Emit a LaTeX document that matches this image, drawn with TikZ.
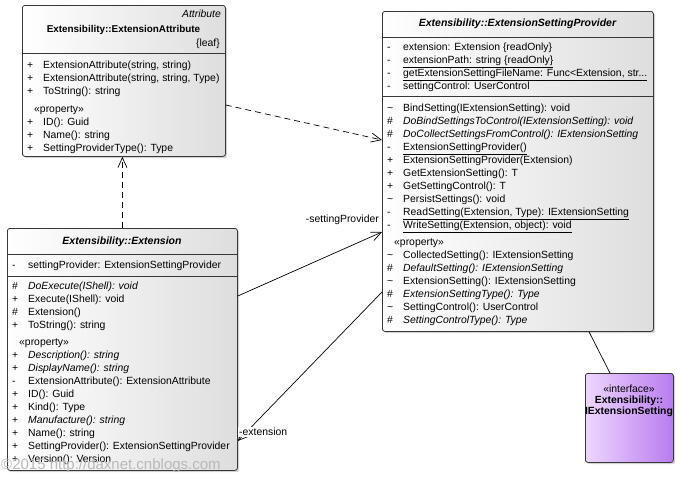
\documentclass[tikz,border=0pt]{standalone}
\usepackage{fontspec}
\setmainfont{Liberation Sans}
\usetikzlibrary{arrows.meta,shadows}

\definecolor{boxedge}{RGB}{55,55,55}
\definecolor{ifacelight}{RGB}{238,214,255}
\definecolor{ifacedark}{RGB}{184,124,238}

\newcommand{\memberfont}{\fontsize{10.4}{13}\selectfont}
\newcommand{\titlefont}{\fontsize{9.9}{13}\selectfont\bfseries}
\newcommand{\classfont}{\fontsize{10.5}{13}\selectfont\bfseries\itshape}
\newcommand{\stereo}[1]{\multicolumn{2}{@{\hspace{7pt}}l@{}}{«#1»}}

\tikzset{
  classbox/.style={draw=boxedge, line width=0.8pt, rounded corners=2.5pt, anchor=north west,
    left color=white, right color=black!13, inner sep=0pt,
    drop shadow={shadow xshift=1.8pt, shadow yshift=-1.8pt, opacity=.35}},
  members/.style={anchor=north west, inner sep=0pt, font=\memberfont},
  headtext/.style={inner sep=1pt, font=\memberfont},
  rule/.style={draw=boxedge, line width=0.8pt},
  assoc/.style={draw=black, line width=0.7pt, ->},
  dep/.style={assoc, dash pattern=on 6pt off 4pt},
  rolelabel/.style={font=\memberfont, inner sep=1pt},
  >={Straight Barb[length=10pt,width=9pt]}
}

\begin{document}
\begin{tikzpicture}[x=1pt,y=-1pt]
  \useasboundingbox (0,0) rectangle (681,477);

  % the four classifiers
  \node[classbox, minimum width=203pt, minimum height=151pt] (attr) at (22,5) {};
  \node[classbox, minimum width=230pt, minimum height=242pt] (ext) at (7,228) {};
  \node[classbox, minimum width=271pt, minimum height=320pt] (prov) at (382,11) {};
  \node[classbox, left color=ifacelight, right color=ifacedark,
        minimum width=88pt, minimum height=89pt] (iface) at (585,373) {};

  % ExtensionAttribute
  \node[headtext, anchor=east, font=\memberfont\itshape] (attrkind) at (222,14) {Attribute};
  \node[headtext, font=\titlefont] (attrname) at (123.5,30) {Extensibility::ExtensionAttribute};
  \node[headtext, anchor=east] (attrleaf) at (221,44) {\{leaf\}};
  \draw[rule] (attr.west |- 0,53) -- (attr.east |- 0,53);
  \node[members] (attrops) at (27,59) {\begin{tabular}{@{}p{16pt}@{}l@{}}
    + & ExtensionAttribute(string, string)\\
    + & ExtensionAttribute(string, string, Type)\\
    + & ToString(): string\\[5pt]
    \stereo{property}\\
    + & ID(): Guid\\
    + & Name(): string\\
    + & SettingProviderType(): Type
  \end{tabular}};

  % Extension
  \node[headtext, font=\classfont] (extname) at (122,242) {Extensibility::Extension};
  \draw[rule] (ext.west |- 0,254) -- (ext.east |- 0,254);
  \node[members] (extattrs) at (12,259) {\begin{tabular}{@{}p{16pt}@{}l@{}}
    - & settingProvider: ExtensionSettingProvider
  \end{tabular}};
  \draw[rule] (ext.west |- 0,276) -- (ext.east |- 0,276);
  \node[members] (extops) at (12,280) {\begin{tabular}{@{}p{16pt}@{}l@{}}
    \# & \textit{DoExecute(IShell): void}\\
    + & Execute(IShell): void\\
    \# & Extension()\\
    + & ToString(): string\\[4pt]
    \stereo{property}\\
    + & \textit{Description(): string}\\
    + & \textit{DisplayName(): string}\\
    - & ExtensionAttribute(): ExtensionAttribute\\
    + & ID(): Guid\\
    + & Kind(): Type\\
    + & \textit{Manufacture(): string}\\
    + & Name(): string\\
    + & SettingProvider(): ExtensionSettingProvider\\
    + & Version(): Version
  \end{tabular}};

  % ExtensionSettingProvider
  \node[headtext, font=\classfont] (provname) at (517.5,24) {Extensibility::ExtensionSettingProvider};
  \draw[rule] (prov.west |- 0,37) -- (prov.east |- 0,37);
  \node[members] (provattrs) at (387,41) {\begin{tabular}{@{}p{16pt}@{}l@{}}
    - & extension: Extension \{readOnly\}\\
    - & \underline{extensionPath: string \{readOnly\}}\\
    - & \underline{getExtensionSettingFileName: Func<Extension, str...}\\
    - & settingControl: UserControl
  \end{tabular}};
  \draw[rule] (prov.west |- 0,96) -- (prov.east |- 0,96);
  \node[members] (provops) at (387,102) {\begin{tabular}{@{}p{16pt}@{}l@{}}
    \textasciitilde & BindSetting(IExtensionSetting): void\\
    \# & \textit{DoBindSettingsToControl(IExtensionSetting): void}\\
    \# & \textit{DoCollectSettingsFromControl(): IExtensionSetting}\\
    - & \underline{ExtensionSettingProvider()}\\
    + & ExtensionSettingProvider(Extension)\\
    + & GetExtensionSetting(): T\\
    + & GetSettingControl(): T\\
    \textasciitilde & PersistSettings(): void\\
    - & \underline{ReadSetting(Extension, Type): IExtensionSetting}\\
    - & \underline{WriteSetting(Extension, object): void}\\[4pt]
    \stereo{property}\\
    \textasciitilde & CollectedSetting(): IExtensionSetting\\
    \# & \textit{DefaultSetting(): IExtensionSetting}\\
    \textasciitilde & ExtensionSetting(): IExtensionSetting\\
    \# & \textit{ExtensionSettingType(): Type}\\
    \textasciitilde & SettingControl(): UserControl\\
    \# & \textit{SettingControlType(): Type}
  \end{tabular}};

  % IExtensionSetting
  \node[headtext, font=\fontsize{10.4}{11}\selectfont, align=center] (ifacename) at (629,401)
    {«interface»\\\textbf{Extensibility::}\\\textbf{IExtensionSetting}};

  % relations
  \draw[dep] (ext.north) -- (ext.north |- attr.south);
  \draw[dep] ([yshift=-100pt]attr.north east) -- ([yshift=-129pt]prov.north west);
  \draw[assoc] ([yshift=-68pt]ext.north east) -- ([yshift=-221pt]prov.north west);
  \draw[assoc] ([yshift=-281pt]prov.north west) -- ([yshift=-213pt]ext.north east);
  \draw[line width=0.7pt] ([xshift=207pt]prov.south west) -- ([xshift=25pt]iface.north west);
  \node[rolelabel, anchor=east] (provrole) at (380,220) {-settingProvider};
  \node[rolelabel, anchor=west, fill=white] (extrole) at (238,432) {-extension};

  \node[anchor=west, inner sep=0pt, font=\fontsize{15}{15}\selectfont, text=gray!55] (mark) at (1,466)
    {©2015 http://daxnet.cnblogs.com};
\end{tikzpicture}
\end{document}
